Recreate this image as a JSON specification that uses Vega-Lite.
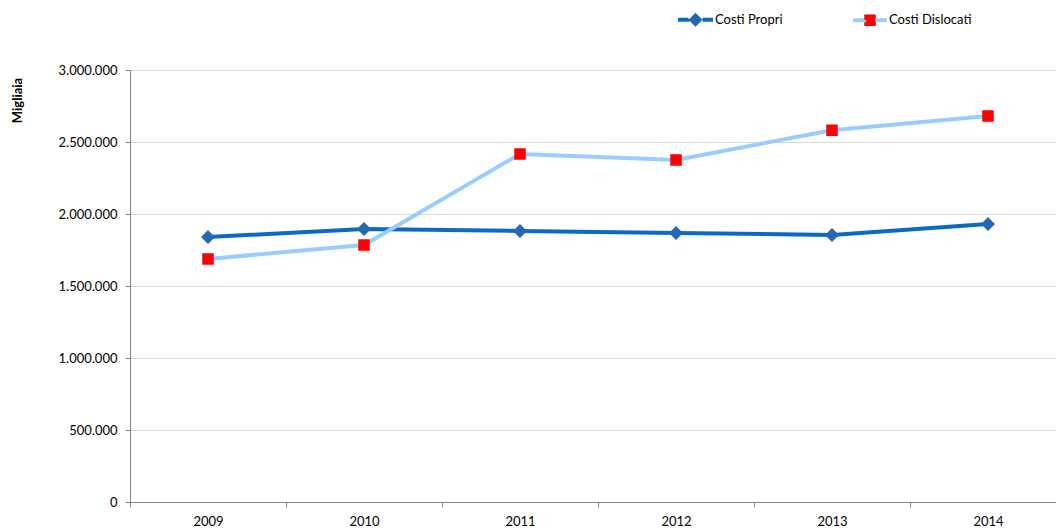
{
  "$schema": "https://vega.github.io/schema/vega-lite/v6.json",
  "autosize": "none",
  "padding": {"left": 130, "top": 70, "right": 0, "bottom": 27},
  "width": 936,
  "height": 432,
  "background": "white",
  "config": {
    "locale": {"number": {"decimal": ",", "thousands": ".", "grouping": [3], "currency": ["€", ""]}},
    "view": {"stroke": null},
    "font": "Lato"
  },
  "data": {
    "values": [
      {"anno": "2009", "serie": "Costi Propri", "valore": 1840000},
      {"anno": "2010", "serie": "Costi Propri", "valore": 1895000},
      {"anno": "2011", "serie": "Costi Propri", "valore": 1882000},
      {"anno": "2012", "serie": "Costi Propri", "valore": 1868000},
      {"anno": "2013", "serie": "Costi Propri", "valore": 1855000},
      {"anno": "2014", "serie": "Costi Propri", "valore": 1931000},
      {"anno": "2009", "serie": "Costi Dislocati", "valore": 1688000},
      {"anno": "2010", "serie": "Costi Dislocati", "valore": 1785000},
      {"anno": "2011", "serie": "Costi Dislocati", "valore": 2417000},
      {"anno": "2012", "serie": "Costi Dislocati", "valore": 2375000},
      {"anno": "2013", "serie": "Costi Dislocati", "valore": 2582000},
      {"anno": "2014", "serie": "Costi Dislocati", "valore": 2680000}
    ]
  },
  "encoding": {
    "x": {
      "field": "anno", "type": "ordinal",
      "scale": {"type": "band", "paddingInner": 0, "paddingOuter": 0},
      "axis": {
        "title": null, "labelAngle": 0, "labelFont": "Lato", "labelFontSize": 13, "labelColor": "black",
        "domainColor": "#868686", "tickColor": "#868686", "tickSize": 5, "tickBand": "extent",
        "labelPadding": 8, "grid": false
      }
    },
    "y": {
      "field": "valore", "type": "quantitative",
      "scale": {"domain": [0, 3000000], "nice": false},
      "axis": {
        "values": [0, 500000, 1000000, 1500000, 2000000, 2500000, 3000000],
        "format": ",d",
        "title": "Migliaia", "titleFont": "Lato", "titleFontSize": 13, "titleFontWeight": "bold", "titleColor": "black",
        "titleAlign": "center", "titleX": -113, "titleY": 30, "titleBaseline": "middle",
        "labelFont": "Lato", "labelFontSize": 13, "labelColor": "black", "labelPadding": 8,
        "domainColor": "#868686", "tickColor": "#868686", "tickSize": 5,
        "gridColor": "#D9D9D9", "gridWidth": 1
      }
    }
  },
  "layer": [
    {
      "mark": {"type": "line", "strokeWidth": 4},
      "encoding": {
        "stroke": {
          "field": "serie", "type": "nominal",
          "scale": {"domain": ["Costi Propri", "Costi Dislocati"], "range": ["#0A6CC0", "#99CCFF"]},
          "legend": {
            "title": null, "orient": "none", "legendX": 546, "legendY": -70, "direction": "horizontal",
            "symbolSize": 1200, "symbolStrokeWidth": 4, "symbolDash": [11.4, 300], "symbolOpacity": 1,
            "labelFont": "Lato", "labelFontSize": 13, "labelColor": "black", "labelOffset": 0,
            "columnPadding": 62, "padding": 0
          }
        }
      }
    },
    {
      "mark": {"type": "point", "filled": true, "opacity": 1},
      "encoding": {
        "shape": {
          "field": "serie", "type": "nominal",
          "scale": {"domain": ["Costi Propri", "Costi Dislocati"], "range": [
            "M-1,0H-0.4L0,-0.4L0.4,0L0,0.4L-0.4,0Z M0.4,0H1",
            "M-1,0H-0.34V-0.34H0.34V0.34H-0.34V0Z M0.34,0H1"
          ]},
          "legend": {
            "title": null, "orient": "none", "legendX": 546, "legendY": -70, "direction": "horizontal",
            "symbolSize": 1200, "symbolStrokeWidth": 4, "symbolDash": [11.4, 300], "symbolOpacity": 1,
            "labelFont": "Lato", "labelFontSize": 13, "labelColor": "black", "labelOffset": 0,
            "columnPadding": 62, "padding": 0
          }
        },
        "fill": {
          "field": "serie", "type": "nominal",
          "scale": {"domain": ["Costi Propri", "Costi Dislocati"], "range": ["#2468B4", "#FF0000"]},
          "legend": {
            "title": null, "orient": "none", "legendX": 546, "legendY": -70, "direction": "horizontal",
            "symbolSize": 1200, "symbolStrokeWidth": 4, "symbolDash": [11.4, 300], "symbolOpacity": 1,
            "labelFont": "Lato", "labelFontSize": 13, "labelColor": "black", "labelOffset": 0,
            "columnPadding": 62, "padding": 0
          }
        },
        "size": {
          "field": "serie", "type": "nominal",
          "scale": {"domain": ["Costi Propri", "Costi Dislocati"], "range": [1225, 1144]},
          "legend": null
        }
      }
    }
  ]
}
